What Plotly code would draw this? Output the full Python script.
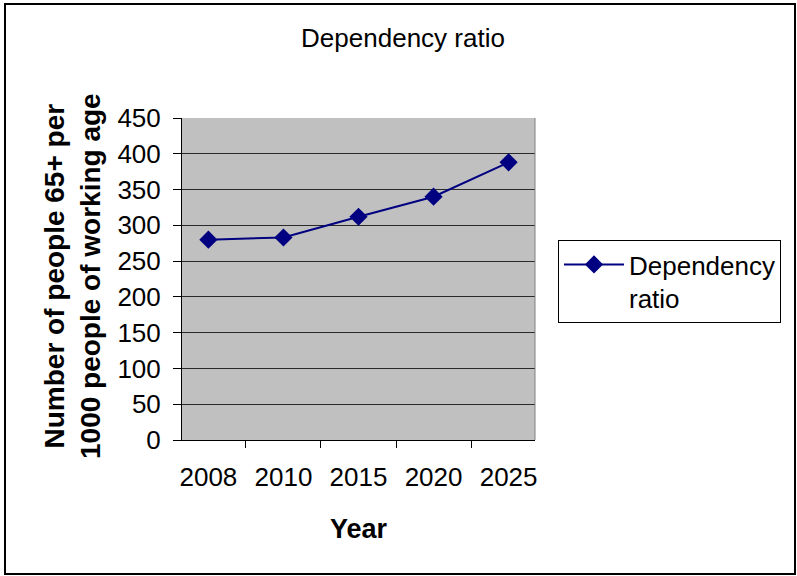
import plotly.graph_objects as go

years = ["2008", "2010", "2015", "2020", "2025"]
ratio = [280, 283, 312, 340, 388]
y_ticks = [0, 50, 100, 150, 200, 250, 300, 350, 400, 450]

W, H = 797, 576
L, R, T, B = 182, 535, 118, 440
pw, ph = R - L, B - T

def px(x):
    return (x - L) / pw

def py(y):
    return (B - y) / ph

FONT = "Liberation Sans, Arial, sans-serif"

fig = go.Figure()
fig.add_trace(go.Scatter(
    x=years, y=ratio, mode="lines+markers", name="Dependency<br>ratio",
    line=dict(color="#000080", width=2),
    marker=dict(symbol="diamond", size=14, color="#000080"),
))

fig.update_layout(
    width=W, height=H,
    margin=dict(l=L, r=W - R, t=T, b=H - B),
    paper_bgcolor="white", plot_bgcolor="#C0C0C0",
    font=dict(family=FONT, size=26, color="black"),
    title=dict(text="Dependency ratio", x=403 / W, xanchor="center",
               y=1 - 38 / H, yanchor="middle", font=dict(size=26)),
    showlegend=True,
    legend=dict(x=px(558), y=py(240), xanchor="left", yanchor="top",
                bordercolor="black", borderwidth=1, bgcolor="white",
                font=dict(size=26), valign="top", itemwidth=60),
    xaxis=dict(type="category", showgrid=False, showline=True, linecolor="black",
               linewidth=1, ticks="outside", tickson="boundaries", ticklen=7,
               tickcolor="black", tickfont=dict(size=26), ticklabelstandoff=14,
               title=dict(text="<b>Year</b>", font=dict(size=27), standoff=27)),
    yaxis=dict(range=[0, 450], tickvals=y_ticks, showgrid=True, gridcolor="#2a2a2a",
               gridwidth=1, showline=True, linecolor="black", linewidth=1,
               ticks="outside", ticklen=8, tickcolor="black", tickfont=dict(size=26),
               ticklabelstandoff=7, zeroline=False),
)

fig.add_annotation(text="<b>Number of people 65+ per<br>1000 people of working age</b>",
                   xref="paper", yref="paper", x=px(72), y=py(276), textangle=-90,
                   xanchor="center", yanchor="middle",
                   showarrow=False, font=dict(size=28), align="center")

# outer border
fig.add_shape(type="rect", xref="paper", yref="paper",
              x0=px(5), x1=px(795), y0=py(574), y1=py(4),
              line=dict(color="black", width=2), layer="below")
# right edge of plot area
fig.add_shape(type="line", xref="paper", yref="paper", x0=1, x1=1, y0=0, y1=1,
              line=dict(color="#808080", width=1))

fig.write_html("out.html", config={"displayModeBar": False},
               post_script="document.body.style.margin='0';document.body.style.overflow='hidden';")
